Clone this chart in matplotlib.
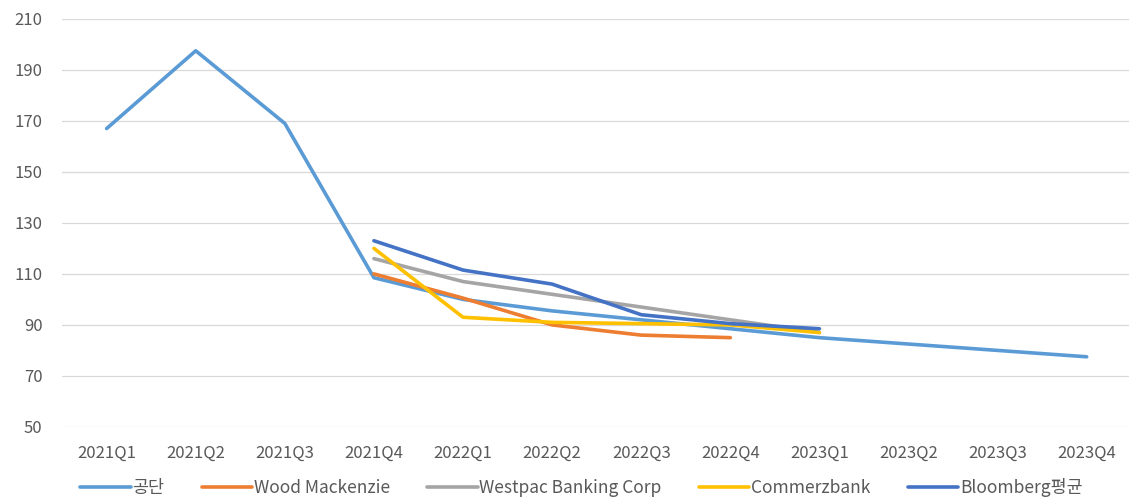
import matplotlib
matplotlib.use("Agg")
import matplotlib.pyplot as plt
import numpy as np

plt.rcParams['font.family'] = ['Noto Sans CJK KR', 'DejaVu Sans']

quarters = ['2021Q1', '2021Q2', '2021Q3', '2021Q4', '2022Q1', '2022Q2',
            '2022Q3', '2022Q4', '2023Q1', '2023Q2', '2023Q3', '2023Q4']

# 공단 전망 (전 기간)
gongdan = [167, 197.5, 169, 108.5, 100, 95.5, 92, 88.5, 85, 82.5, 80, 77.5]
# 기관별 전망 (2021Q4부터)
wood_mackenzie = [110, 100.5, 90, 86, 85]
westpac = [116, 107, 102, 97, 92, 87]
commerzbank = [120, 93, 91, 90.5, 90, 87]
bloomberg = [123, 111.5, 106, 94, 90.5, 88.5]

series = [
    ('공단', gongdan, 0, '#5B9BD5'),
    ('Wood Mackenzie', wood_mackenzie, 3, '#ED7D31'),
    ('Westpac Banking Corp', westpac, 3, '#A5A5A5'),
    ('Commerzbank', commerzbank, 3, '#FFC000'),
    ('Bloomberg평균', bloomberg, 3, '#4472C4'),
]

fig = plt.figure(figsize=(11.29, 4.97), dpi=100)
ax = fig.add_axes([0.055, 0.141, 0.947, 0.821])

x = np.arange(len(quarters))
for name, vals, start, color in series:
    ax.plot(x[start:start + len(vals)], vals, color=color, lw=2.6,
            solid_capstyle='round', solid_joinstyle='round', label=name)

ax.set_xlim(-0.5, len(quarters) - 0.5)
ax.set_ylim(50, 210)
ax.set_yticks(range(50, 211, 20))
ax.set_xticks(x)
ax.set_xticklabels(quarters)
ax.grid(axis='y', color='#D9D9D9', lw=0.9)
ax.set_axisbelow(True)
for s in ax.spines.values():
    s.set_visible(False)
ax.tick_params(length=0, colors='#595959', labelsize=12)
ax.tick_params(axis='x', pad=13)
ax.tick_params(axis='y', pad=14)

fig.legend(loc='lower center', bbox_to_anchor=(0.515, -0.032), ncol=5,
           frameon=False, fontsize=12.5, handlelength=2.9, handletextpad=0.1,
           columnspacing=2.15, labelcolor='#595959')

fig.savefig('out.png', dpi=100)
